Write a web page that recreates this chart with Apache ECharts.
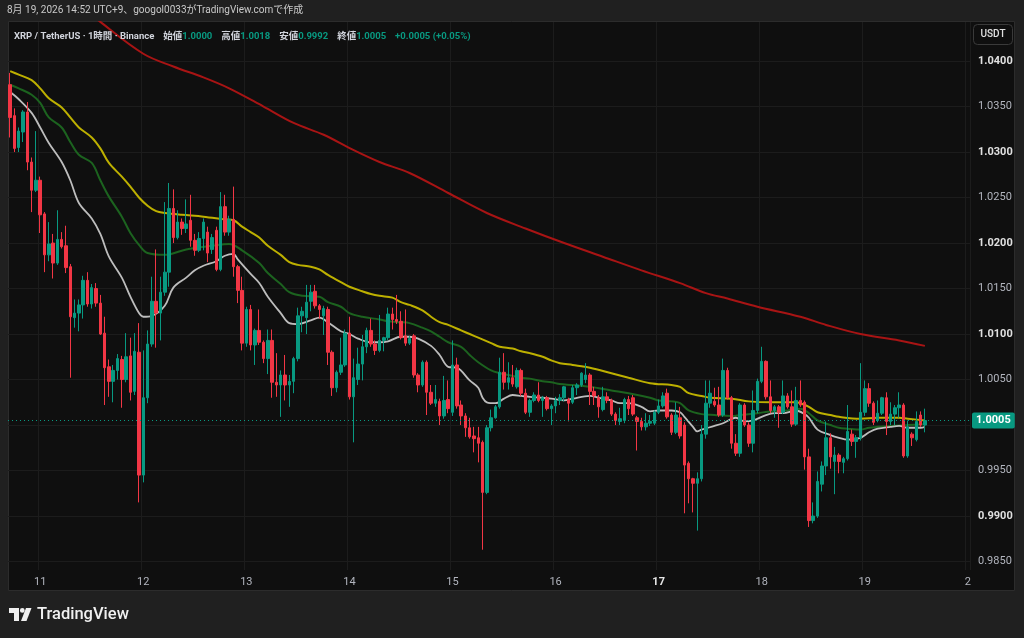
<!DOCTYPE html>
<html>
<head>
<meta charset="utf-8">
<script src="https://cdn.jsdelivr.net/npm/echarts@6/dist/echarts.min.js"></script>
<style>
  html, body { margin: 0; padding: 0; background: #202020; }
  #chart { width: 1024px; height: 638px; }
</style>
</head>
<body>
<div id="chart"></div>
<script>
// 1h candles XRP/USDT, rows are [open, close, low, high]
const aug10 = [
  [1.0374,1.0338,1.0316,1.0387],[1.0340,1.0304,1.0300,1.0348],[1.0305,1.0323,1.0300,1.0327],
  [1.0322,1.0344,1.0311,1.0346],[1.0344,1.0289,1.0280,1.0355],[1.0289,1.0258,1.0234,1.0294],
  [1.0258,1.0269,1.0256,1.0323]
];
const aug11 = [
  [1.0269,1.0231,1.0211,1.0273],[1.0232,1.0187,1.0168,1.0234],[1.0187,1.0199,1.0180,1.0223],
  [1.0200,1.0178,1.0161,1.0210],[1.0178,1.0204,1.0176,1.0236],[1.0204,1.0196,1.0194,1.0212],
  [1.0197,1.0173,1.0167,1.0219],[1.0174,1.0119,1.0052,1.0177],[1.0118,1.0123,1.0107,1.0138],
  [1.0123,1.0132,1.0103,1.0138],[1.0132,1.0159,1.0117,1.0164],[1.0159,1.0133,1.0130,1.0168],
  [1.0133,1.0151,1.0128,1.0155],[1.0150,1.0134,1.0130,1.0156],[1.0134,1.0100,1.0099,1.0143],
  [1.0101,1.0063,1.0022,1.0119],[1.0064,1.0048,1.0031,1.0072],[1.0048,1.0060,1.0025,1.0066],
  [1.0060,1.0073,1.0050,1.0078],[1.0072,1.0050,1.0019,1.0076],[1.0050,1.0075,1.0047,1.0101],
  [1.0076,1.0036,1.0027,1.0096],[1.0037,1.0081,1.0033,1.0101],[1.0080,0.9945,0.9915,1.0112]
];
const aug12 = [
  [0.9945,1.0030,0.9937,1.0082],[1.0030,1.0089,1.0024,1.0104],[1.0089,1.0136,1.0086,1.0163],
  [1.0136,1.0123,1.0085,1.0193],[1.0123,1.0146,1.0093,1.0163],[1.0146,1.0168,1.0142,1.0245],
  [1.0168,1.0238,1.0152,1.0266],[1.0238,1.0206,1.0200,1.0259],[1.0206,1.0223,1.0204,1.0236],
  [1.0223,1.0216,1.0209,1.0227],[1.0216,1.0221,1.0211,1.0248],[1.0225,1.0203,1.0196,1.0253],
  [1.0203,1.0192,1.0186,1.0210],[1.0192,1.0205,1.0190,1.0212],[1.0205,1.0223,1.0192,1.0227],
  [1.0212,1.0189,1.0179,1.0218],[1.0193,1.0206,1.0188,1.0210],[1.0214,1.0171,1.0169,1.0218],
  [1.0171,1.0240,1.0169,1.0256],[1.0240,1.0212,1.0208,1.0253],[1.0212,1.0226,1.0208,1.0230],
  [1.0226,1.0174,1.0163,1.0262],[1.0174,1.0148,1.0134,1.0176],[1.0148,1.0090,1.0082,1.0163]
];
const aug13 = [
  [1.0090,1.0127,1.0086,1.0130],[1.0127,1.0088,1.0082,1.0132],[1.0088,1.0104,1.0066,1.0106],
  [1.0104,1.0091,1.0088,1.0127],[1.0091,1.0073,1.0068,1.0093],[1.0073,1.0093,1.0056,1.0105],
  [1.0093,1.0047,1.0030,1.0105],[1.0047,1.0044,1.0031,1.0079],[1.0044,1.0055,1.0009,1.0060],
  [1.0055,1.0044,1.0027,1.0077],[1.0044,1.0048,1.0020,1.0055],[1.0048,1.0073,1.0035,1.0075],
  [1.0073,1.0120,1.0070,1.0129],[1.0120,1.0125,1.0102,1.0130],[1.0118,1.0135,1.0100,1.0154],
  [1.0136,1.0146,1.0125,1.0154],[1.0147,1.0131,1.0128,1.0154],[1.0131,1.0127,1.0117,1.0133],
  [1.0120,1.0128,1.0099,1.0131],[1.0127,1.0080,1.0066,1.0130],[1.0080,1.0041,1.0032,1.0082],
  [1.0041,1.0058,1.0036,1.0060],[1.0058,1.0066,1.0055,1.0096],[1.0066,1.0101,1.0064,1.0105]
];
const aug14 = [
  [1.0101,1.0031,1.0028,1.0119],[1.0031,1.0052,0.9981,1.0073],[1.0050,1.0067,1.0044,1.0085],
  [1.0067,1.0086,1.0049,1.0099],[1.0086,1.0104,1.0079,1.0107],[1.0104,1.0089,1.0086,1.0117],
  [1.0089,1.0082,1.0077,1.0093],[1.0082,1.0093,1.0080,1.0121],[1.0093,1.0096,1.0081,1.0097],
  [1.0096,1.0122,1.0093,1.0129],[1.0122,1.0116,1.0105,1.0129],[1.0116,1.0114,1.0111,1.0143],
  [1.0114,1.0096,1.0094,1.0125],[1.0098,1.0090,1.0087,1.0127],[1.0090,1.0095,1.0088,1.0098],
  [1.0098,1.0055,1.0052,1.0100],[1.0055,1.0044,1.0036,1.0057],[1.0044,1.0069,1.0042,1.0071],
  [1.0069,1.0036,1.0011,1.0071],[1.0036,1.0024,1.0022,1.0044],[1.0024,1.0028,1.0020,1.0044],
  [1.0026,1.0010,1.0000,1.0029],[1.0010,1.0027,1.0007,1.0054],[1.0028,1.0018,1.0013,1.0049]
];
const aug15 = [
  [1.0014,1.0066,1.0010,1.0093],[1.0066,1.0021,1.0018,1.0074],[1.0022,1.0010,1.0000,1.0027],
  [1.0010,0.9997,0.9987,1.0013],[0.9997,0.9987,0.9985,1.0008],[0.9988,0.9985,0.9970,0.9998],
  [0.9986,0.9980,0.9959,0.9998],[0.9981,0.9926,0.9863,0.9983],[0.9926,0.9997,0.9924,1.0000],
  [0.9997,1.0008,0.9993,1.0017],[1.0008,1.0020,1.0007,1.0022],[1.0020,1.0058,1.0018,1.0074],
  [1.0058,1.0047,1.0039,1.0079],[1.0047,1.0052,1.0039,1.0069],[1.0052,1.0045,1.0042,1.0066],
  [1.0042,1.0060,1.0040,1.0063],[1.0060,1.0035,1.0032,1.0062],[1.0035,1.0014,1.0012,1.0040],
  [1.0014,1.0027,1.0009,1.0029],[1.0027,1.0033,1.0025,1.0036],[1.0033,1.0027,1.0025,1.0047],
  [1.0027,1.0030,1.0009,1.0032],[1.0030,1.0018,1.0016,1.0032],[1.0018,1.0021,1.0000,1.0023]
];
const aug16 = [
  [1.0021,1.0027,1.0013,1.0031],[1.0027,1.0030,1.0022,1.0034],[1.0030,1.0042,1.0026,1.0043],
  [1.0028,1.0024,1.0004,1.0030],[1.0025,1.0041,1.0023,1.0044],[1.0041,1.0044,1.0033,1.0046],
  [1.0044,1.0057,1.0042,1.0058],[1.0050,1.0055,1.0046,1.0068],[1.0055,1.0037,1.0022,1.0057],
  [1.0037,1.0032,1.0022,1.0042],[1.0030,1.0020,1.0008,1.0033],[1.0017,1.0031,1.0015,1.0042],
  [1.0031,1.0027,1.0024,1.0036],[1.0027,1.0012,1.0010,1.0029],[1.0012,1.0005,1.0000,1.0014],
  [1.0004,1.0007,1.0000,1.0019],[1.0005,1.0028,1.0002,1.0030],[1.0028,1.0018,1.0011,1.0032],
  [1.0030,1.0012,1.0010,1.0033],[1.0008,1.0004,0.9972,1.0010],[1.0004,0.9998,0.9994,1.0008],
  [0.9998,1.0002,0.9994,1.0013],[1.0002,1.0004,0.9999,1.0011],[1.0002,1.0014,1.0000,1.0016]
];
const aug17 = [
  [1.0014,1.0021,1.0012,1.0028],[1.0021,1.0032,1.0019,1.0036],[1.0035,1.0009,1.0007,1.0040],
  [1.0011,0.9992,0.9989,1.0013],[0.9992,1.0011,0.9990,1.0025],[1.0008,0.9988,0.9985,1.0020],
  [1.0000,0.9956,0.9903,1.0003],[0.9958,0.9941,0.9914,0.9960],[0.9941,0.9936,0.9904,0.9942],
  [0.9936,0.9941,0.9884,0.9948],[0.9941,0.9990,0.9938,1.0000],[0.9990,1.0024,0.9985,1.0049],
  [1.0024,1.0035,1.0019,1.0049],[1.0026,1.0022,1.0020,1.0041],[1.0022,1.0011,1.0009,1.0042],
  [1.0011,1.0060,1.0009,1.0073],[1.0060,1.0030,1.0028,1.0063],[1.0030,0.9980,0.9974,1.0032],
  [0.9980,0.9969,0.9966,0.9990],[0.9969,1.0022,0.9965,1.0024],[1.0022,1.0000,0.9998,1.0024],
  [1.0000,0.9980,0.9976,1.0003],[0.9980,1.0016,0.9970,1.0038],[1.0016,1.0048,1.0013,1.0051]
];
const aug18 = [
  [1.0048,1.0070,1.0046,1.0086],[1.0070,1.0031,1.0028,1.0071],[1.0031,1.0016,1.0013,1.0049],
  [1.0016,1.0020,1.0008,1.0022],[1.0020,1.0014,0.9997,1.0022],[1.0014,1.0032,1.0012,1.0049],
  [1.0032,1.0020,1.0018,1.0035],[1.0020,1.0001,0.9998,1.0038],[1.0001,1.0027,0.9999,1.0042],
  [1.0027,1.0022,1.0020,1.0049],[1.0025,0.9965,0.9951,1.0027],[0.9965,0.9895,0.9888,0.9974],
  [0.9895,0.9900,0.9892,0.9915],[0.9900,0.9938,0.9898,0.9949],[0.9935,0.9955,0.9927,0.9960],
  [0.9955,0.9986,0.9945,1.0004],[0.9986,0.9965,0.9952,0.9991],[0.9960,0.9967,0.9924,0.9976],
  [0.9967,0.9960,0.9947,0.9969],[0.9959,0.9963,0.9947,0.9965],[0.9963,0.9993,0.9961,1.0022],
  [0.9990,0.9982,0.9977,0.9995],[0.9982,0.9986,0.9964,0.9989],[0.9986,1.0014,0.9983,1.0068]
];
const aug19 = [
  [1.0014,1.0040,1.0010,1.0049],[1.0040,1.0024,1.0020,1.0046],[1.0024,1.0003,1.0000,1.0026],
  [1.0005,1.0013,1.0003,1.0027],[1.0013,1.0030,1.0011,1.0031],[1.0030,1.0004,0.9989,1.0036],
  [1.0004,1.0012,1.0000,1.0025],[1.0012,1.0019,1.0000,1.0022],[1.0019,1.0022,1.0008,1.0036],
  [1.0022,0.9966,0.9964,1.0024],[0.9966,0.9998,0.9964,1.0005],[0.9990,0.9986,0.9977,0.9992],
  [0.9984,1.0004,0.9982,1.0015],[1.0011,1.0000,0.9998,1.0015],[1.0000,1.0005,0.9992,1.0018]
];

// moving averages, [candle index, price]
const maWhite = [
  [0,1.0366],[2,1.0358],[5,1.0343],[7,1.0327],[9,1.0310],[12,1.0289],[14,1.0269],[16,1.0244],
  [19,1.0227],[21,1.0210],[23,1.0185],[26,1.0162],[28,1.0141],[30,1.0123],[31,1.0119],[33,1.0120],
  [36,1.0131],[38,1.0151],[41,1.0162],[43,1.0170],[45,1.0175],[48,1.0180],[50,1.0186],[52,1.0188],
  [53,1.0182],[56,1.0166],[58,1.0156],[60,1.0141],[63,1.0123],[65,1.0112],[67,1.0111],[70,1.0115],
  [72,1.0118],[74,1.0113],[77,1.0103],[79,1.0100],[81,1.0095],[84,1.0091],[86,1.0091],[88,1.0092],
  [91,1.0097],[93,1.0097],[95,1.0095],[98,1.0087],[100,1.0077],[102,1.0064],[104,1.0063],[107,1.0049],
  [109,1.0041],[110,1.0030],[111,1.0025],[113,1.0024],[115,1.0029],[117,1.0033],[119,1.0032],[121,1.0031],
  [124,1.0030],[126,1.0029],[129,1.0027],[131,1.0029],[135,1.0032],[137,1.0030],[140,1.0027],[142,1.0024],
  [144,1.0024],[147,1.0020],[149,1.0015],[151,1.0016],[154,1.0016],[156,1.0014],[157,1.0009],[159,0.9998],
  [160,0.9993],[161,0.9995],[164,0.9999],[166,1.0002],[169,1.0008],[171,1.0004],[173,1.0005],[176,1.0011],
  [178,1.0013],[180,1.0013],[183,1.0016],[185,1.0012],[186,1.0008],[188,0.9995],[191,0.9989],[193,0.9986],
  [195,0.9984],[198,0.9986],[200,0.9992],[202,0.9996],[205,0.9998],[207,0.9999],[209,0.9997],[212,0.9997],
  [213,0.9998]
];
const maGreen = [
  [0,1.0374],[2,1.0370],[5,1.0363],[7,1.0354],[9,1.0338],[12,1.0327],[14,1.0311],[16,1.0297],
  [19,1.0288],[21,1.0269],[23,1.0251],[26,1.0229],[28,1.0211],[30,1.0198],[32,1.0189],[36,1.0187],
  [41,1.0193],[47,1.0197],[51,1.0199],[54,1.0192],[58,1.0178],[60,1.0167],[63,1.0155],[65,1.0146],
  [68,1.0142],[72,1.0141],[74,1.0135],[77,1.0130],[79,1.0123],[82,1.0119],[86,1.0116],[88,1.0114],
  [91,1.0113],[93,1.0112],[96,1.0107],[98,1.0103],[100,1.0097],[102,1.0091],[105,1.0086],[107,1.0077],
  [109,1.0069],[112,1.0060],[114,1.0057],[117,1.0054],[119,1.0052],[121,1.0051],[124,1.0048],[126,1.0047],
  [128,1.0045],[131,1.0044],[135,1.0042],[140,1.0038],[144,1.0035],[149,1.0030],[151,1.0027],[154,1.0026],
  [156,1.0024],[158,1.0016],[161,1.0012],[164,1.0011],[168,1.0010],[170,1.0011],[174,1.0013],[177,1.0015],
  [181,1.0016],[184,1.0018],[186,1.0013],[188,1.0005],[191,1.0000],[193,0.9997],[195,0.9996],[198,0.9995],
  [200,0.9997],[202,0.9998],[205,0.9999],[209,1.0000],[213,1.0001]
];
const maYellow = [
  [0,1.0389],[2,1.0385],[5,1.0379],[7,1.0370],[9,1.0359],[12,1.0349],[14,1.0338],[16,1.0327],
  [19,1.0316],[21,1.0304],[23,1.0288],[26,1.0273],[28,1.0262],[30,1.0250],[32,1.0241],[34,1.0235],
  [36,1.0233],[40,1.0231],[45,1.0229],[50,1.0226],[52,1.0225],[54,1.0218],[56,1.0212],[58,1.0206],
  [60,1.0197],[63,1.0187],[65,1.0179],[67,1.0176],[70,1.0174],[72,1.0171],[74,1.0165],[77,1.0157],
  [79,1.0152],[82,1.0147],[84,1.0144],[86,1.0142],[89,1.0140],[91,1.0135],[93,1.0132],[96,1.0126],
  [98,1.0119],[100,1.0113],[102,1.0110],[105,1.0104],[107,1.0100],[109,1.0096],[112,1.0090],[114,1.0086],
  [117,1.0084],[119,1.0081],[121,1.0079],[124,1.0075],[126,1.0071],[128,1.0068],[131,1.0066],[135,1.0063],
  [140,1.0057],[144,1.0052],[149,1.0046],[154,1.0044],[156,1.0042],[158,1.0035],[161,1.0032],[163,1.0030],
  [168,1.0029],[172,1.0026],[177,1.0025],[183,1.0025],[184,1.0024],[186,1.0020],[188,1.0014],[191,1.0011],
  [193,1.0009],[198,1.0007],[202,1.0008],[207,1.0008],[209,1.0007],[213,1.0005]
];
const maRed = [
  [16,1.0463],[21,1.0443],[31,1.0408],[38,1.0394],[45,1.0382],[51,1.0370],[59,1.0350],[66,1.0332],
  [73,1.0319],[80,1.0302],[86,1.0289],[93,1.0277],[102,1.0255],[111,1.0233],[120,1.0216],[129,1.0200],
  [138,1.0185],[147,1.0170],[156,1.0156],[162,1.0145],[167,1.0139],[174,1.0130],[184,1.0119],[190,1.0110],
  [198,1.0100],[207,1.0093],[213,1.0087]
];

const dayTickLabels = ['11', '12', '13', '14', '15', '16', '17', '18', '19', '2'];
const weekStartLabel = '17';
const firstMidnight = 7;       // index of Aug 11 00:00
const slotCount = 224;          // hourly slots shown on the time axis

const headerText = '8月 19, 2026 14:52 UTC+9、googol0033がTradingView.comで作成';
const symbolText = 'XRP / TetherUS · 1時間 · Binance';

const candles = [].concat(aug10, aug11, aug12, aug13, aug14, aug15, aug16, aug17, aug18, aug19);

const startMs = Date.UTC(2026, 7, 10, 17);
const categories = [];
for (let k = 0; k < slotCount; k++) {
  const d = new Date(startMs + k * 3600000);
  categories.push((d.getUTCMonth() + 1) + '/' + d.getUTCDate() + ' ' + String(d.getUTCHours()).padStart(2, '0') + ':00');
}

const last = candles[candles.length - 1];
const prevClose = candles[candles.length - 2][1];
const change = last[1] - prevClose;
const changePct = change / prevClose * 100;
const sign = change >= 0 ? '+' : '-';

const UP = '#089981', DOWN = '#f23645';
const FONT = "Roboto, 'Noto Sans CJK JP', sans-serif";
const isDayTick = idx => idx >= firstMidnight && (idx - firstMidnight) % 24 === 0;

const legendText =
  '{n|' + symbolText + '}  ' +
  '{k|始値}{v|' + last[0].toFixed(4) + '}  ' +
  '{k|高値}{v|' + last[3].toFixed(4) + '}  ' +
  '{k|安値}{v|' + last[2].toFixed(4) + '}  ' +
  '{k|終値}{v|' + last[1].toFixed(4) + '}  ' +
  '{v|' + sign + Math.abs(change).toFixed(4) + ' (' + sign + Math.abs(changePct).toFixed(2) + '%)}';

const maLine = (data, color, width) => ({
  type: 'line', data: data, smooth: 0.35, symbol: 'none', silent: true, z: 1,
  lineStyle: { color: color, width: width }
});

const chart = echarts.init(document.getElementById('chart'));
chart.setOption({
  backgroundColor: '#202020',
  animation: false,
  textStyle: { fontFamily: FONT },
  title: [
    { left: 7, top: 6, padding: 0, text: headerText,
      textStyle: { color: '#c9c9c9', fontSize: 10, fontWeight: 'normal', fontFamily: FONT } },
    { left: 14, top: 28, padding: 0, text: legendText,
      textStyle: { fontFamily: FONT, rich: {
        n: { color: '#d1d4dc', fontSize: 9.5, fontFamily: FONT },
        k: { color: '#d1d4dc', fontSize: 9.5, fontFamily: FONT },
        v: { color: UP, fontSize: 9.5, fontFamily: FONT }
      } } }
  ],
  graphic: [
    { type: 'rect', z: -1, shape: { x: 8.5, y: 21.5, width: 1006, height: 569 },
      style: { fill: '#0f0f0f', stroke: '#2c2c2c', lineWidth: 1 } },
    { type: 'rect', z: 10, shape: { x: 973.5, y: 24.5, width: 39, height: 20, r: 4 },
      style: { fill: '#0f0f0f', stroke: '#3a3a3a', lineWidth: 1 } },
    { type: 'text', z: 11, x: 993, y: 34.5,
      style: { text: 'USDT', fill: '#e0e0e0', font: '500 10px ' + FONT, align: 'center', verticalAlign: 'middle' } },
    { type: 'polygon', z: 10, shape: { points: [[9,608],[19,608],[19,621],[14,621],[14,613],[9,613]] },
      style: { fill: '#f0f0f0' } },
    { type: 'circle', z: 10, shape: { cx: 22.3, cy: 610.4, r: 2.4 }, style: { fill: '#f0f0f0' } },
    { type: 'polygon', z: 10, shape: { points: [[26,608],[31.5,608],[26.5,621],[21,621]] },
      style: { fill: '#f0f0f0' } },
    { type: 'text', z: 10, x: 37, y: 615,
      style: { text: 'TradingView', fill: '#f0f0f0', font: '500 16.5px ' + FONT, verticalAlign: 'middle' } }
  ],
  grid: { left: 8, right: 54, top: 22, bottom: 68 },
  xAxis: {
    type: 'category', data: categories, boundaryGap: true,
    axisLine: { show: false }, axisTick: { show: false },
    axisLabel: {
      interval: idx => isDayTick(idx), margin: 7, color: '#b2b5be', fontSize: 11, fontFamily: FONT,
      formatter: (val, idx) => {
        const t = dayTickLabels[(idx - firstMidnight) / 24];
        return t === weekStartLabel ? '{b|' + t + '}' : t;
      },
      rich: { b: { color: '#e6e6e6', fontWeight: 'bold', fontSize: 11, fontFamily: FONT } }
    },
    splitLine: { show: true, interval: idx => isDayTick(idx), lineStyle: { color: '#1c1c1c', width: 1 } }
  },
  yAxis: {
    type: 'value', position: 'right', min: 0.98407, max: 1.04429, splitNumber: 12,
    axisLine: { show: false }, axisTick: { show: false },
    axisLabel: {
      margin: 8, fontSize: 11, fontFamily: FONT, showMinLabel: false, showMaxLabel: false,
      formatter: v => {
        const u = Math.round(v * 10000);
        if (u % 50 !== 0) return '';
        if (Math.abs(v - last[1]) < 0.0008) return '';
        const s = v.toFixed(4);
        return u % 100 === 0 ? '{b|' + s + '}' : '{n|' + s + '}';
      },
      rich: {
        b: { color: '#e0e0e0', fontWeight: 'bold', fontSize: 11, fontFamily: FONT },
        n: { color: '#b2b5be', fontSize: 11, fontFamily: FONT }
      }
    },
    splitLine: { show: true, showMinLine: false, showMaxLine: false, lineStyle: { color: '#1c1c1c', width: 1 } }
  },
  series: [
    maLine(maRed, '#a81414', 2),
    maLine(maYellow, '#bdb000', 2),
    maLine(maGreen, '#1c631f', 2),
    maLine(maWhite, '#bdbdbd', 1.8),
    {
      type: 'candlestick', data: candles, barWidth: 3, z: 3,
      itemStyle: { color: UP, color0: DOWN, borderColor: UP, borderColor0: DOWN, borderWidth: 1 },
      markLine: {
        silent: true, symbol: ['none', 'none'], animation: false, precision: 4,
        data: [{ yAxis: last[1] }],
        lineStyle: { color: UP, type: [1, 3], width: 1 },
        label: {
          position: 'end', distance: 2, formatter: last[1].toFixed(4),
          backgroundColor: UP, color: '#ffffff', fontSize: 11, fontWeight: 'bold',
          fontFamily: FONT, padding: [3, 4, 2, 4], borderRadius: 2
        }
      }
    }
  ]
});
</script>
</body>
</html>
